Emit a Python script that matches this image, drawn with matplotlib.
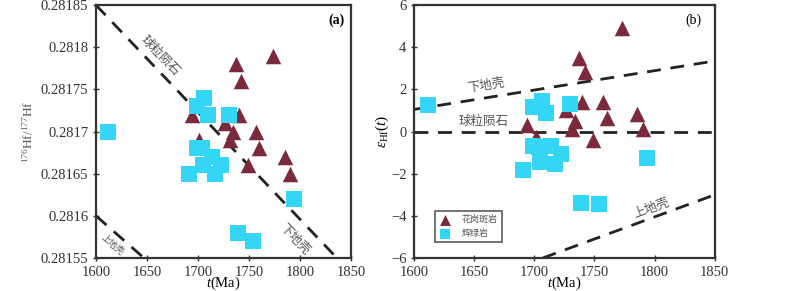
import matplotlib
matplotlib.use("Agg")
import matplotlib.pyplot as plt

plt.rcParams['font.family'] = ['Liberation Serif', 'Noto Sans CJK SC', 'DejaVu Sans']
plt.rcParams['mathtext.fontset'] = 'custom'
plt.rcParams['mathtext.it'] = 'Liberation Serif:italic'
plt.rcParams['mathtext.rm'] = 'Liberation Serif'

# 花岗斑岩 (triangles)
gran_t = [1773, 1737, 1742, 1694, 1740, 1726, 1734, 1731, 1701, 1757, 1760, 1749, 1785, 1790]
gran_hf = [0.28179, 0.28178, 0.28176, 0.28172, 0.28172, 0.28171, 0.28170, 0.28169, 0.28169,
           0.28170, 0.28168, 0.28166, 0.28167, 0.28165]
gran_eps = [4.9, 3.5, 2.85, 0.31, 1.39, 1.04, 0.49, 0.13, -0.27, 1.39, 0.65, -0.39, 0.83, 0.13]

# 辉绿岩 (squares)
dia_t = [1612, 1699, 1706, 1710, 1730, 1699, 1704, 1714, 1705, 1722, 1717, 1691, 1794, 1739, 1754]
dia_hf = [0.28170, 0.28173, 0.28174, 0.28172, 0.28172, 0.28168, 0.28168, 0.28167, 0.28166,
          0.28166, 0.28165, 0.28165, 0.28162, 0.28158, 0.28157]
dia_eps = [1.26, 1.15, 1.46, 0.88, 1.31, -0.69, -0.74, -0.69, -1.45, -1.06, -1.53, -1.81, -1.24, -3.37, -3.45]

# reference lines
chur_a_t = [1600, 1836]
chur_a_y = [0.28185, 0.28155]
uc_a_t = [1600, 1647]
uc_a_y = [0.28160, 0.28155]
lc_b_t = [1600, 1850]
lc_b_y = [1.05, 3.35]
chur_b_t = [1600, 1850]
chur_b_y = [0, 0]
uc_b_t = [1707, 1850]
uc_b_y = [-6, -3.0]

tri_c = '#7a2a3a'
sq_c = '#35d6f5'
txt_c = '#555555'

fig = plt.figure(figsize=(8, 2.91), dpi=100)
ax1 = fig.add_axes([0.12, 0.1134, 0.319, 0.869])
ax2 = fig.add_axes([0.5175, 0.1134, 0.376, 0.869])

for ax in (ax1, ax2):
    for s in ax.spines.values():
        s.set_linewidth(1.6)
        s.set_color('#333333')
    ax.tick_params(direction='inout', length=4, width=1, labelsize=10.5, colors='#333333')
    ax.set_xlim(1600, 1850)
    ax.set_xticks([1600, 1650, 1700, 1750, 1800, 1850])
    ax.set_xlabel(r'$\it{t}$(Ma)', fontsize=10.5, labelpad=-3)

# (a)
ax1.plot(chur_a_t, chur_a_y, '--', color='#222222', lw=2, dashes=(5, 3.5))
ax1.plot(uc_a_t, uc_a_y, '--', color='#222222', lw=2, dashes=(5, 3.5))
ax1.scatter(gran_t, gran_hf, marker='^', s=125, color=tri_c, zorder=3, linewidths=0)
ax1.scatter(dia_t, dia_hf, marker='s', s=125, color=sq_c, zorder=3, linewidths=0)
ax1.set_ylim(0.28155, 0.28185)
ax1.set_yticks([0.28155, 0.2816, 0.28165, 0.2817, 0.28175, 0.2818, 0.28185])
ax1.set_yticklabels(['0.28155', '0.2816', '0.28165', '0.2817', '0.28175', '0.2818', '0.28185'])
ax1.set_ylabel(r'$^{176}$Hf/$^{177}$Hf', fontsize=9.5, color=txt_c, labelpad=4)
ax1.text(0.975, 0.94, '(a)', transform=ax1.transAxes, ha='right', va='center',
         fontsize=10, fontweight='bold')
ax1.text(1663, 0.281790, '球粒陨石', rotation=-46, ha='center', va='center',
         fontsize=9, color=txt_c)
ax1.text(1794, 0.281572, '下地壳', rotation=-46, ha='center', va='center',
         fontsize=9, color=txt_c)
ax1.text(1616, 0.281566, '上地壳', rotation=-40, ha='center', va='center',
         fontsize=6.5, color=txt_c)

# (b)
ax2.plot(lc_b_t, lc_b_y, '--', color='#222222', lw=2, dashes=(5, 3.5))
ax2.plot(chur_b_t, chur_b_y, '--', color='#222222', lw=2, dashes=(5, 3.5))
ax2.plot(uc_b_t, uc_b_y, '--', color='#222222', lw=2, dashes=(5, 3.5))
ax2.scatter(gran_t, gran_eps, marker='^', s=125, color=tri_c, zorder=3, linewidths=0,
            label='花岗斑岩')
ax2.scatter(dia_t, dia_eps, marker='s', s=125, color=sq_c, zorder=3, linewidths=0,
            label='辉绿岩')
ax2.set_ylim(-6, 6)
ax2.set_yticks([-6, -4, -2, 0, 2, 4, 6])
ax2.set_ylabel(r'$\it{\varepsilon}_{\rm Hf}(\it{t})$', fontsize=11, labelpad=0)
ax2.text(0.955, 0.94, '(b)', transform=ax2.transAxes, ha='right', va='center', fontsize=10)
ax2.text(1660, 2.15, '下地壳', rotation=9, ha='center', va='center', fontsize=9, color=txt_c)
ax2.text(1658, 0.45, '球粒陨石', rotation=0, ha='center', va='center', fontsize=9, color=txt_c)
ax2.text(1797, -3.65, '上地壳', rotation=20, ha='center', va='center', fontsize=9, color=txt_c)
leg = ax2.legend(loc='lower left', bbox_to_anchor=(0.055, 0.045), frameon=True,
                 fancybox=False, edgecolor='#333333', markerscale=0.7, handletextpad=1.3,
                 handlelength=1.2, borderpad=0.45, labelspacing=0.55,
                 prop={'family': ['Noto Sans CJK SC'], 'size': 6.5})
leg.get_frame().set_linewidth(1.2)
for t in leg.get_texts():
    t.set_color(txt_c)

fig.savefig('out.png', dpi=100)
